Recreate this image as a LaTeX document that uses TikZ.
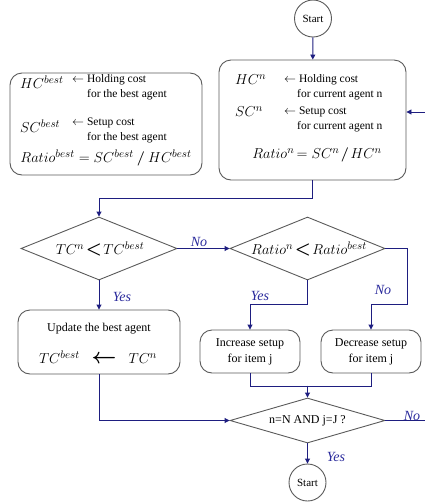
\documentclass[tikz,border=0pt]{standalone}
\usepackage{amsmath}
\usepackage{fontspec}
\setmainfont{Liberation Serif}
\usetikzlibrary{shapes.geometric,arrows.meta,calc}
\definecolor{navy}{HTML}{1E1E80}
\definecolor{labblue}{HTML}{2A2A9C}
\definecolor{bordergray}{HTML}{5A5A5A}
\tikzset{
  box/.style={draw=bordergray, line width=0.9pt, rounded corners=12pt, inner sep=0pt},
  dia/.style={diamond, draw=bordergray, line width=0.9pt, inner sep=0pt},
  term/.style={circle, draw=bordergray, line width=0.9pt, inner sep=0pt, minimum size=37pt, font=\fontsize{11}{13}\selectfont},
  conn/.style={draw=navy, line width=0.9pt, -{Triangle[length=5pt,width=5pt]}},
  plain/.style={draw=navy, line width=0.9pt},
  lab/.style={text=labblue, font=\itshape\fontsize{14}{16}\selectfont, inner sep=0pt},
  txt/.style={font=\fontsize{11.5}{13}\selectfont, inner sep=0pt},
  mth/.style={font=\fontsize{15}{17}\selectfont, inner sep=0pt},
}
\newcommand{\bigless}{\mathord{\mkern2mu\scalebox{1.25}{$\boldsymbol{<}$}\mkern2mu}}
\begin{document}
\begin{tikzpicture}[x=1pt,y=-1pt]
\useasboundingbox (0,0) rectangle (425,504);
% nodes
\node[term] (start1) at (313,18.5) {Start};
\node[box, minimum width=187pt, minimum height=120pt] (rbox) at (312.5,120) {};
\node[box, minimum width=192pt, minimum height=102pt] (lbox) at (106,124) {};
\node[dia, minimum width=156pt, minimum height=63pt] (d1) at (99,248.5) {};
\node[dia, minimum width=155pt, minimum height=63pt] (d2) at (307.5,248.5) {};
\node[box, minimum width=162pt, minimum height=64pt] (upd) at (99,342) {};
\node[box, minimum width=100pt, minimum height=43pt, align=center, font=\fontsize{12}{16}\selectfont] (inc) at (250,351.5) {Increase setup\\for item j};
\node[box, minimum width=100pt, minimum height=43pt, align=center, font=\fontsize{12}{16}\selectfont] (dec) at (371,351.5) {Decrease setup\\for item j};
\node[dia, minimum width=155pt, minimum height=45pt] (d3) at (307.5,420.5) {};
\node[term] (start2) at (307.5,482.5) {Start};

% left box text
\node[mth, anchor=west] (lhc) at (20,82) {$HC^{best}$};
\node[txt, anchor=west] (lhc1) at (72,80) {$\leftarrow$ Holding cost};
\node[txt, anchor=west] (lhc2) at (87,95) {for the best agent};
\node[mth, anchor=west] (lsc) at (20,126) {$SC^{best}$};
\node[txt, anchor=west] (lsc1) at (72,123) {$\leftarrow$ Setup cost};
\node[txt, anchor=west] (lsc2) at (87,138) {for the best agent};
\node[mth, font=\fontsize{15.3}{17}\selectfont] (lratio) at (106,158) {$Ratio^{best} = SC^{best} \mathbin{\boldsymbol{/}} HC^{best}$};

% right box text
\node[mth, anchor=west] (rhc) at (235,80) {$HC^{n}$};
\node[txt, anchor=west] (rhc1) at (284,80) {$\leftarrow$ Holding cost};
\node[txt, anchor=west] (rhc2) at (297,95) {for current agent n};
\node[mth, anchor=west] (rsc) at (235,112) {$SC^{n}$};
\node[txt, anchor=west] (rsc1) at (284,112) {$\leftarrow$ Setup cost};
\node[txt, anchor=west] (rsc2) at (297,127) {for current agent n};
\node[mth] (rratio) at (317,155) {$Ratio^{n}\mkern-2mu = SC^{n}\mkern-2mu \mathbin{\boldsymbol{/}}\mkern-2mu HC^{n}$};

% diamond texts
\node[mth] (d1t) at (100,249) {$TC^{n} \bigless TC^{best}$};
\node[mth] (d2t) at (309,249) {$Ratio^{n}\bigless Ratio^{best}$};
\node[txt, font=\fontsize{12}{14}\selectfont] (d3t) at (d3) {n=N AND j=J ?};

% update box text
\node[txt, font=\fontsize{12}{14}\selectfont] (updt) at (99,329) {Update the best agent};
\node[mth] (updf) at (98,357) {$TC^{best}\;\;\;\scalebox{1.5}{$\boldsymbol{\leftarrow}$}\;\;\;TC^{n}$};

% connectors
\coordinate (merge) at ($(d3.north)+(0,-12)$);
\coordinate (noend) at (425,420.5);
\coordinate (loopin) at (425,112);

\draw[conn] (start1) -- (rbox);
\draw[conn] (rbox.south) -- ++(0,18) -| (d1.north);
\draw[conn] (d1.east) -- (d2.west);
\draw[conn] (d2.east) -- ++(22,0) |- ($(dec.north)+(0,-25)$) -- (dec.north);
\draw[conn] (d2.south) |- ($(inc.north)+(0,-25)$) -- (inc.north);
\draw[conn] (d1.south) -- (upd.north);
\draw[plain] (inc.south) -- ++(0,13) -| (dec.south);
\draw[conn] (merge) -- (d3.north);
\draw[conn] (upd.south) |- (d3.west);
\draw[plain] (d3.east) -- (noend);
\draw[conn] (d3.south) -- (start2.north);
\draw[conn] (loopin) -- (rbox.east |- loopin);

% labels
\node[lab] (lno1) at (199,242) {No};
\node[lab] (lno2) at (383,290) {No};
\node[lab] (lyes2) at (260,296) {Yes};
\node[lab] (lyes1) at (122,297) {Yes};
\node[lab] (lyes3) at (336,457) {Yes};
\node[lab] (lno3) at (412,416) {No};
\end{tikzpicture}
\end{document}
